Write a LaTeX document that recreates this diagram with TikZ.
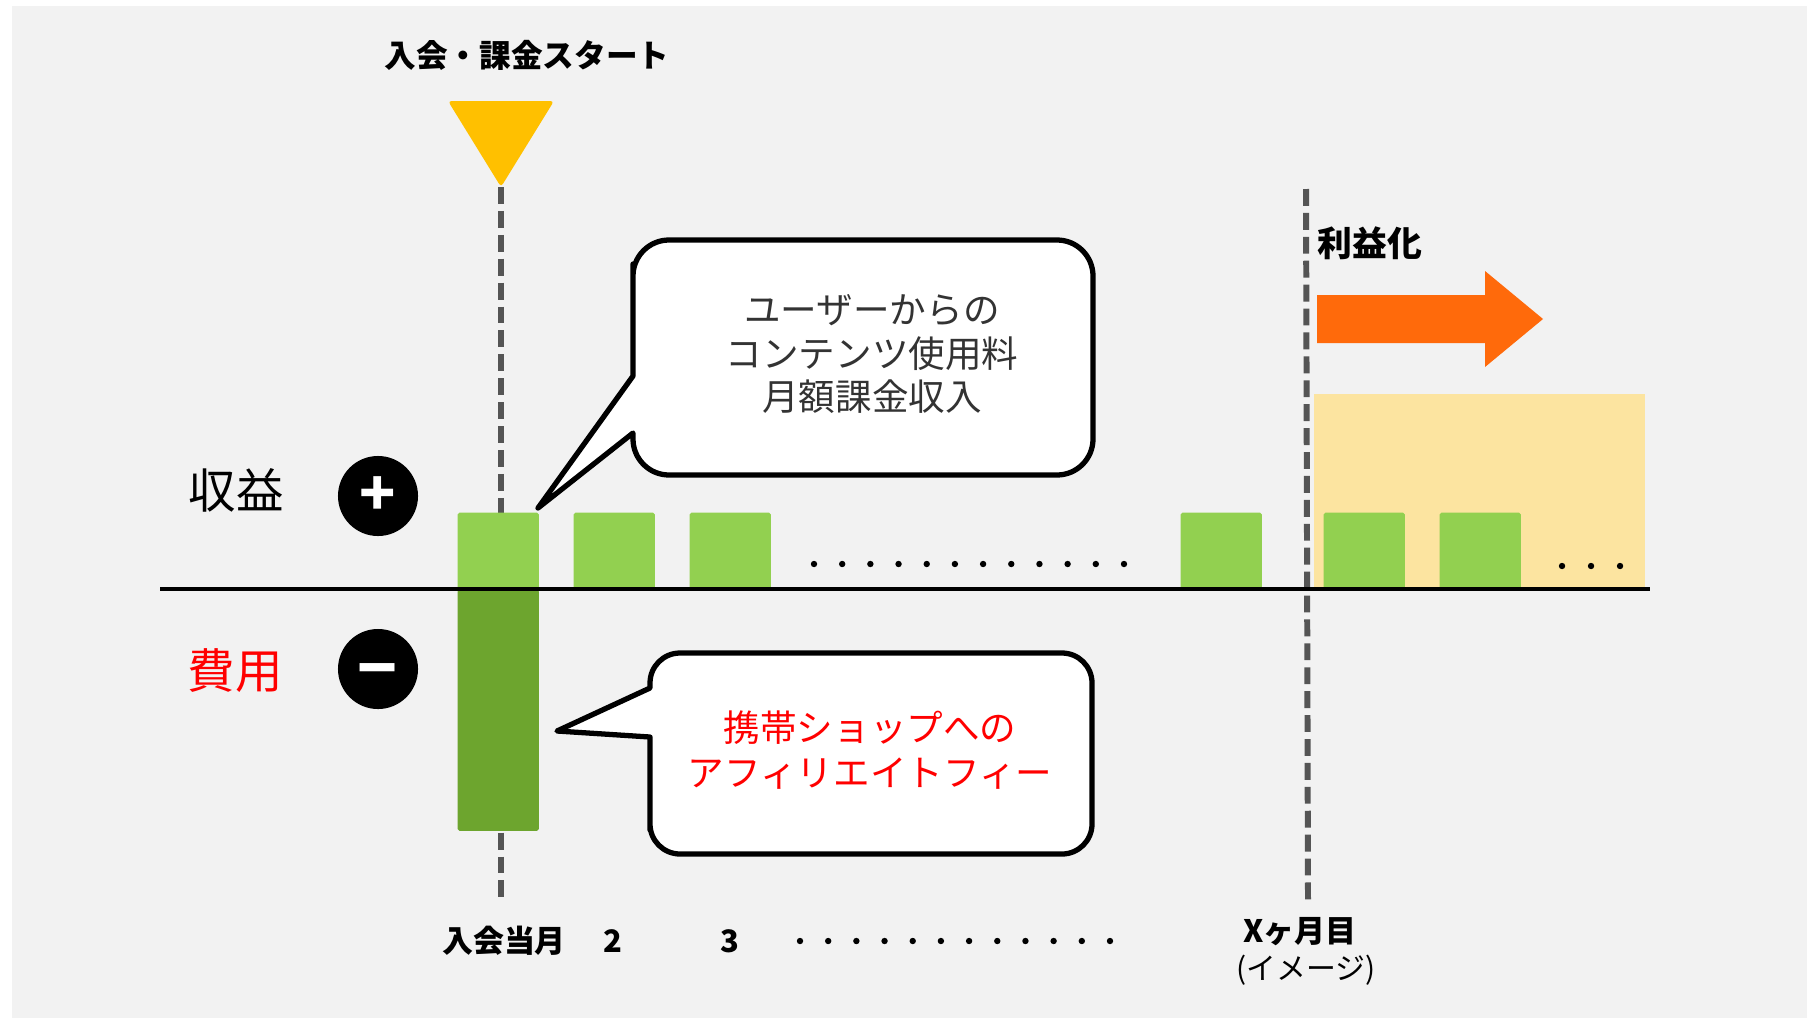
\documentclass[tikz,border=0pt]{standalone}
\usepackage{fontspec}
\setmainfont{Noto Sans CJK JP}
\usepackage{tikz}
\definecolor{panelgray}{HTML}{F2F2F2}
\definecolor{startyellow}{HTML}{FFC000}
\definecolor{revgreen}{HTML}{92D050}
\definecolor{costgreen}{HTML}{6DA52E}
\definecolor{profitband}{HTML}{FCE4A0}
\definecolor{profitorange}{HTML}{FF6A0B}
\definecolor{guidegray}{HTML}{555555}
\definecolor{bubbletext}{HTML}{333333}
\tikzstyle{guide} = [guidegray, line width=1.7pt, dash pattern=on 4.8pt off 2pt]
\tikzstyle{bar} = [inner sep=0pt, minimum width=0.81cm, fill=revgreen, rounded corners=0.5pt]
\tikzstyle{bubble} = [draw=black, fill=white, line width=1.5pt, line join=round]
\tikzstyle{sign} = [circle, fill=black, minimum size=0.8cm, inner sep=0pt]
\tikzstyle{signmark} = [inner sep=0pt, text=white, font=\fontsize{17}{17}\selectfont\bfseries]
\tikzstyle{month} = [font=\fontsize{8.8}{10}\selectfont\bfseries]

\begin{document}
\begin{tikzpicture}[x=0.01cm, y=-0.01cm]
  \useasboundingbox (0,0) rectangle (1807,1018);
  \fill[white] (0,0) rectangle (1807,1018);
  \fill[panelgray] (12,6) rectangle (1807,1018);
  % profit zone
  \fill[profitband] (1314,394) rectangle (1645,589);

  % start marker
  \node[font=\fontsize{9}{10}\selectfont\bfseries] (start) at (527,55) {入会・課金スタート};
  \fill[startyellow, rounded corners=1pt] (448,101) -- (554,101) -- (501,187) coordinate (tri) -- cycle;
  \coordinate (startend) at (501,903);
  \draw[guide] (tri) -- (startend);
  \coordinate (xtop) at (1306,189);
  \coordinate (xend) at (1308,903);
  \draw[guide] (xtop) -- (xend);

  % bars
  \foreach \x [count=\i] in {457,573,689,1180,1323,1439}
    \node[bar, minimum height=0.77cm, anchor=north west] (rev\i) at (\x,512) {};
  \node[bar, fill=costgreen, minimum height=2.41cm, anchor=north west] (cost) at (457,589) {};

  % axis
  \coordinate (axl) at (160,589);
  \coordinate (axr) at (1650,589);
  \draw[line width=1.3pt] (axl) -- (axr);

  % plus / minus
  \node[font=\fontsize{13.5}{14}\selectfont] (revlabel) at (236,490) {収益};
  \node[sign] (plus) at (378,496) {};
  \node[signmark] (plusmark) at (plus.center) {+};
  \node[font=\fontsize{13.5}{14}\selectfont, text=red] (costlabel) at (235,671) {費用};
  \node[sign] (minus) at (378,669) {};
  \node[signmark, scale=1.1] (minusmark) at ([yshift=-2.6pt]minus.center) {−};

  % callouts
  \draw[bubble] (633,300) -- (633,376) -- (538,508) -- (633,433) -- (633,438) [rounded corners=0.36cm] -- (633,475) -- (1093,475) -- (1093,240) -- (633,240) -- cycle;
  \node[text=bubbletext, align=center, font=\fontsize{10.4}{12.5}\selectfont] (income) at (872,354) {ユーザーからの\\コンテンツ使用料\\月額課金収入};
  \draw[bubble] (650,800) -- (650,737) -- (557,731) -- (650,688) -- (650,684) [rounded corners=0.3cm] -- (650,653) -- (1092,653) -- (1092,854) -- (650,854) -- cycle;
  \node[text=red, align=center, font=\fontsize{10.4}{12.8}\selectfont] (fee) at (870,750) {携帯ショップへの\\アフィリエイトフィー};

  % profit
  \node[font=\fontsize{9.9}{10}\selectfont\bfseries, anchor=west, inner sep=0pt] (profit) at (1317,243) {利益化};
  \fill[profitorange] (1317,295) -- (1485,295) -- (1485,271) -- (1543,319) -- (1485,367) -- (1485,343) -- (1317,343) -- cycle;

  % dots
  \foreach \i in {0,...,11} \fill (814+28.18*\i,564) circle (3.2);
  \foreach \i in {0,...,11} \fill (800+28.18*\i,941) circle (3.2);
  \foreach \x in {1562,1591,1620} \fill (\x,566) circle (3.2);

  % months
  \node[month] (m1) at (504,941) {入会当月};
  \node[month] (m2) at (613,941) {2};
  \node[month] (m3) at (730,941) {3};
  \node[month] (mx) at (1300,932) {Xヶ月目};
  \node[font=\fontsize{8.5}{10}\selectfont] (image) at (1306,970) {(イメージ)};
\end{tikzpicture}
\end{document}
